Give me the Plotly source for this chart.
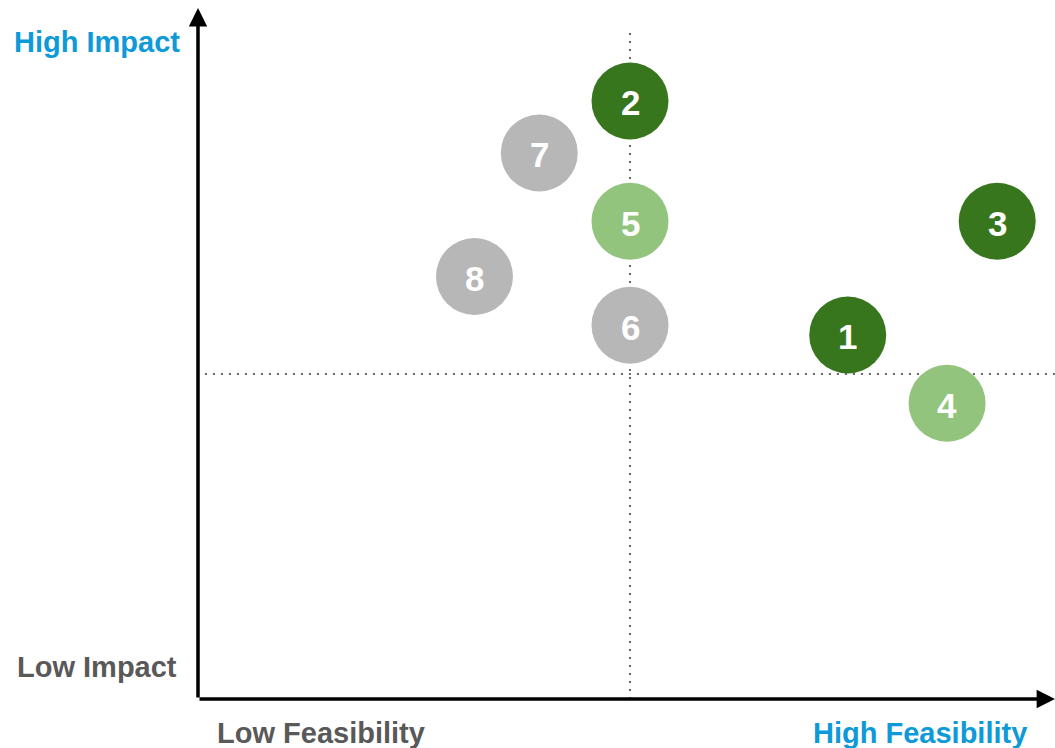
import plotly.graph_objects as go

# Initiatives plotted by feasibility (x) and impact (y)
ids = ["1", "2", "3", "4", "5", "6", "7", "8"]
feasibility = [7.52, 5.0, 9.25, 8.67, 5.0, 5.0, 3.95, 3.2]
impact = [5.6, 9.2, 7.35, 4.55, 7.35, 5.75, 8.4, 6.5]
groups = ["dark", "dark", "dark", "light", "light", "grey", "grey", "grey"]

palette = {"dark": "#38761d", "light": "#93c47d", "grey": "#b7b7b7"}

x_mid, y_mid = 5.0, 5.0
x_max, y_max = 9.919, 10.63

BLUE = "#0e9ad8"
GREY_TXT = "#595959"
FONT = "Liberation Sans"

fig = go.Figure()
fig.add_trace(go.Scatter(
    x=feasibility, y=impact, mode="markers",
    marker=dict(size=77, color=[palette[g] for g in groups], line=dict(width=0), opacity=1),
    hoverinfo="skip", cliponaxis=False, showlegend=False,
))

# Quadrant dividers
dot = dict(color="#666666", width=2, dash="2px,6px")
fig.add_shape(type="line", x0=0.08, x1=x_max, y0=y_mid, y1=y_mid, line=dot, layer="below")
fig.add_shape(type="line", x0=x_mid, x1=x_mid, y0=0, y1=10.29, line=dot, layer="below")

label_font = lambda c: dict(family=FONT, size=29, color=c, weight="bold")

annotations = [
    # Axis arrows
    dict(x=x_max, y=0, ax=0, ay=0, axref="x", ayref="y", xref="x", yref="y",
         showarrow=True, arrowhead=2, arrowsize=1.05, arrowwidth=3.5, arrowcolor="black", text=""),
    dict(x=0, y=y_max, ax=0, ay=0, axref="x", ayref="y", xref="x", yref="y",
         showarrow=True, arrowhead=2, arrowsize=1.05, arrowwidth=3.5, arrowcolor="black", text=""),
    # Axis end labels
    dict(x=-0.118, y=0.951, xref="paper", yref="paper", text="High Impact", showarrow=False,
         xanchor="center", yanchor="middle", font=label_font(BLUE)),
    dict(x=-0.118, y=0.046, xref="paper", yref="paper", text="Low Impact", showarrow=False,
         xanchor="center", yanchor="middle", font=label_font(GREY_TXT)),
    dict(x=0.1435, y=-0.049, xref="paper", yref="paper", text="Low Feasibility", showarrow=False,
         xanchor="center", yanchor="middle", font=label_font(GREY_TXT)),
    dict(x=0.842, y=-0.049, xref="paper", yref="paper", text="High Feasibility", showarrow=False,
         xanchor="center", yanchor="middle", font=label_font(BLUE)),
]

# Bubble numbers
for label, fx, iy in zip(ids, feasibility, impact):
    annotations.append(dict(
        x=fx, y=iy, xref="x", yref="y", text=label, showarrow=False,
        xanchor="center", yanchor="middle", yshift=-2,
        font=dict(family=FONT, size=35, color="white", weight="bold"),
    ))

axis_common = dict(showgrid=False, zeroline=False, showticklabels=False, ticks="",
                   showline=False, fixedrange=True)
fig.update_layout(
    width=1055, height=748,
    margin=dict(l=198, r=0, t=8, b=49),
    paper_bgcolor="white", plot_bgcolor="white",
    xaxis=dict(range=[0, x_max], **axis_common),
    yaxis=dict(range=[0, y_max], **axis_common),
    annotations=annotations,
)

fig.write_html("out.html", config={"displayModeBar": False})
